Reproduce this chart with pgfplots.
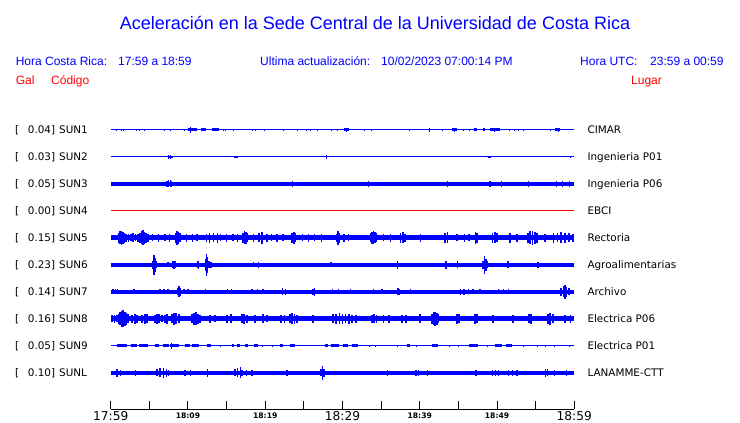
\documentclass[border=0pt]{standalone}
\usepackage{fontspec}
\setmainfont{Liberation Sans}
\newfontfamily\dejavu{DejaVu Sans}
\usepackage{pgfplots}
\usepackage{pgfplotstable}
\pgfplotsset{compat=1.18}
\definecolor{pblue}{RGB}{0,0,255}
\definecolor{pred}{RGB}{255,0,0}

\pgfplotsset{
  spikes/.style={pblue, only marks, mark=*, mark size=0.1pt, mark options={draw=none, fill=none}, error bars/y dir=both, error bars/y explicit, error bars/error mark=none, error bars/error bar style={line width=#1, draw=pblue}},
  blocks/.style={pblue, only marks, mark=*, mark size=0.1pt, mark options={draw=none, fill=none}, error bars/x dir=plus, error bars/x explicit, error bars/error mark=none, error bars/error bar style={line width=#1, draw=pblue}},
}

% ---- SUN1 ----
\pgfplotstableread{
t a
0.8 1.2
1.4 1.2
1.7 1.2
3.3 1.2
3.7 1.2
4.4 1.2
6.9 1.2
7.8 1.2
9.6 1.2
10.3 2.7
14.6 1.2
14.9 1.2
15.9 1.2
18.3 1.2
18.8 1.2
19.9 1.2
22.3 1.2
24.2 1.2
25.3 1.2
25.8 1.2
26.8 1.2
28.6 1.2
29.3 1.2
30.5 2.2
32.8 1.2
33.8 1.2
38.7 1.2
41.2 2.4
42.9 1.2
44.5 2
45.6 1.2
46.4 1.2
48.2 1.2
49.7 2.4
51.6 1.2
52.3 1.2
52.8 1.2
53.4 1.2
56.9 1.2
57.9 1.6
}\sunAs
\pgfplotstableread{
t0 t1
10.0 11.2
11.7 12.3
13.1 14.0
30.2 30.9
44.2 44.8
47.0 47.4
48.2 48.4
49.1 50.4
57.5 58.1
}\sunAb
% ---- SUN2 ----
\pgfplotstableread{
t a
7.5 1.8
7.7 2
16.2 1.3
27.9 1.8
49.0 1.3
59.5 1.3
}\sunBs
\pgfplotstableread{
t0 t1
7.4 8.0
16.0 16.5
48.8 49.2
}\sunBb
% ---- SUN3 ----
\pgfplotstableread{
t a
7.3 3
7.5 3.5
7.7 3.5
7.9 3
23.5 2.8
33.4 2.8
43.6 3
49.1 2.8
50.6 2.8
54.1 2.8
57.7 2.8
58.5 2.8
59.4 3
}\sunCs
% ---- SUN5 ----
\pgfplotstableread{
t a
1.0 5
1.2 6.5
1.4 7
1.6 6
1.8 5
2.0 4
2.3 4
2.6 3.5
2.9 4.5
3.2 3.5
3.5 4
3.8 5
4.0 6.5
4.2 7.5
4.4 6
4.6 5
4.8 4
5.4 3.5
6.2 4
7.0 3.5
7.6 4
8.4 5
8.6 7
8.8 6
9.0 4.5
9.8 4
10.6 4
11.2 3.5
12.4 4
12.8 5
13.3 4.5
13.8 5
14.2 3.5
15.0 4
15.8 3.5
16.4 4
17.1 5
17.3 6.5
17.5 6
17.7 4.5
18.5 4
19.2 4.5
19.6 6
20.2 4
20.8 3.5
21.5 4
22.3 3.5
23.5 5
23.7 6
23.9 4.5
24.8 3.5
25.6 4
26.4 3.5
27.3 4
29.3 4
29.4 7
29.6 5
30.2 4
30.8 3.5
33.6 4.5
33.8 6
34.0 6.5
34.2 5.5
34.4 4.5
35.3 3.5
36.2 4
37.5 5
37.8 5.5
38.1 4
40.1 4
43.3 5
43.6 5.5
44.8 3.5
45.8 4
46.4 3.5
47.2 6
47.4 5
49.4 5
49.7 5.5
50.0 4.5
51.7 5
52.6 4
54.0 5
54.3 6.5
54.6 7
54.9 6
55.2 5
56.2 4
57.3 5
57.8 4.5
58.3 5.5
58.8 5
59.3 4.5
59.8 4
}\sunEs
% ---- SUN6 ----
\pgfplotstableread{
t a
1.2 2.3
1.8 2.3
3.6 2.3
5.5 4
5.6 10
5.75 7
5.9 3.5
7.4 2.5
8.0 3.5
8.2 4.2
8.4 3.5
9.7 2.3
11.2 3.5
11.4 4.2
12.3 6
12.4 11
12.55 8
12.7 3.5
13.0 3
18.5 2.5
19.1 3
19.8 2.3
21.1 2.3
22.2 2.3
23.7 2.3
25.2 2.3
28.5 2.5
29.0 2.3
31.0 2.3
32.7 2.3
34.0 2.3
37.1 4
39.7 2.3
42.3 2.3
43.4 4
44.9 3.5
46.6 2.3
48.2 4
48.4 9
48.55 6
48.7 3.5
50.4 2.3
51.4 3.5
53.0 2.3
55.3 3
57.8 2.3
59.5 2.3
}\sunFs
% ---- SUN7 ----
\pgfplotstableread{
t a
0.3 2.5
0.6 2.5
0.9 2.5
1.7 2.3
2.1 2.3
3.0 2.5
3.4 2.3
3.8 2.3
4.7 2.3
6.4 2.5
6.9 2.5
7.4 2.5
8.7 3.5
8.85 5.5
9.0 4
9.5 2.5
10.0 2.5
11.6 2.3
12.3 2.5
12.9 2.3
15.1 2.5
15.6 2.5
18.3 2.5
19.0 2.5
19.7 2.5
20.2 2.3
22.2 3.5
22.6 3
24.5 2.3
25.3 2.3
26.2 2.8
26.4 4
27.0 2.3
28.7 2.5
29.5 2.5
31.0 2.5
32.2 2.3
34.0 2.5
35.1 2.5
37.2 3.5
37.4 3
38.8 2.5
41.4 2.3
42.6 2.3
45.3 3
45.7 3
46.3 2.5
46.9 2.5
47.8 2.5
48.7 2.3
50.2 2.5
50.8 2.5
51.5 2.5
53.9 2.3
56.5 2.3
58.3 4
58.6 5.5
58.8 7
59.0 5
59.3 3.5
59.7 2.3
}\sunGs
% ---- SUN8 ----
\pgfplotstableread{
t a
0.2 3.5
0.5 4
0.8 3.5
1.0 5
1.2 6.5
1.4 8
1.6 8.5
1.8 7
2.0 6
2.2 4.5
2.8 4
3.1 5
3.4 4
4.1 4
4.4 5
4.7 4.5
5.7 4
6.0 5
6.3 4.5
6.6 3.5
7.0 4
7.3 5
7.9 4.5
8.2 6
8.5 5.5
8.8 4.5
10.5 4.5
10.8 6
11.0 6.5
11.3 5
11.6 4
12.9 4
13.5 3.5
15.0 4
15.6 4.5
17.0 4.5
17.3 5
17.6 4
18.7 4
19.7 4.5
20.2 3.5
22.0 4
22.5 4
23.2 4.5
23.5 5.5
23.8 5
24.1 4
26.2 4
28.8 4.5
29.2 5
29.6 5.5
30.0 5
30.4 4.5
30.8 5
31.2 4
31.7 4
33.8 4
34.1 4.5
34.4 4
35.3 4
36.0 4
37.7 4
38.2 4
40.0 4.5
41.6 5
41.8 6.5
42.0 7
42.2 6
42.4 4.5
44.8 5
45.1 4.5
47.1 5
47.4 4.5
49.5 4
52.1 4
54.1 4.5
54.4 5
56.6 5
56.9 6
57.2 4.5
58.8 4
59.5 4
}\sunHs
% ---- SUN9 ----
\pgfplotstableread{
t a
7.9 2.8
14.2 1.3
19.7 1.3
21.0 1.3
30.6 1.5
33.5 1.3
34.3 1.3
37.1 1.3
39.6 1.3
43.9 1.3
45.0 1.3
48.8 1.3
53.4 1.3
55.2 1.3
56.3 1.3
57.4 1.3
59.4 1.3
}\sunIs
\pgfplotstableread{
t0 t1
0.8 2.1
2.6 3.4
3.7 4.8
5.7 6.3
6.8 7.5
7.7 8.8
9.6 10.2
10.5 11.4
12.5 13.0
15.7 15.9
16.3 16.7
17.4 17.8
18.5 19.0
21.9 22.3
23.2 23.9
27.7 28.1
28.5 29.6
30.0 30.6
31.2 32.0
38.4 38.8
41.6 42.4
46.4 47.6
49.8 50.7
51.1 52.0
}\sunIb
% ---- SUNL ----
\pgfplotstableread{
t a
0.8 3.7
1.3 3
3.2 2.8
6.0 3.5
6.4 4.5
6.8 5
7.2 4
7.5 3
9.6 2.7
10.3 3
12.5 4
16.1 3.5
16.4 4.5
16.8 5.5
17.0 3
17.6 2.8
18.3 2.7
22.8 2.8
27.2 3.5
27.4 7
27.6 4
35.8 2.8
39.5 3
39.8 3
41.0 2.8
47.3 3
49.4 3
49.8 3
50.2 3
51.5 3
52.0 3
52.6 2.7
56.3 4
56.5 3.5
57.4 2.7
59.0 2.8
}\sunLs

\newcommand{\bigt}[1]{{\fontsize{12.2}{14}\selectfont #1}}
\newcommand{\smt}[1]{\raisebox{2.4pt}{\fontsize{7.6}{9}\selectfont\bfseries #1}}
\newcommand{\hdr}{\fontsize{12}{14}\selectfont}
\newcommand{\lab}{\dejavu\fontsize{10.4}{12}\selectfont}

\begin{document}
\begin{tikzpicture}[x=1pt,y=1pt]
\useasboundingbox (0,0) rectangle (740,423);
% header texts
\node[anchor=base, inner sep=0, text=pblue, font=\fontsize{18}{20}\selectfont] at (375,393.7) {Aceleración en la Sede Central de la Universidad de Costa Rica};
\node[anchor=base west, inner sep=0, text=pblue, font=\hdr] at (15.6,357.7) {Hora Costa Rica:};
\node[anchor=base west, inner sep=0, text=pblue, font=\hdr] at (118,357.7) {17:59 a 18:59};
\node[anchor=base west, inner sep=0, text=pblue, font=\hdr] at (260,357.7) {Ultima actualización:};
\node[anchor=base west, inner sep=0, text=pblue, font=\hdr] at (381,357.7) {10/02/2023 07:00:14 PM};
\node[anchor=base west, inner sep=0, text=pblue, font=\hdr] at (580,357.7) {Hora UTC:};
\node[anchor=base west, inner sep=0, text=pblue, font=\hdr] at (650,357.7) {23:59 a 00:59};
\node[anchor=base west, inner sep=0, text=pred, font=\hdr] at (15.6,338) {Gal};
\node[anchor=base west, inner sep=0, text=pred, font=\hdr] at (51,338) {Código};
\node[anchor=base west, inner sep=0, text=pred, font=\hdr] at (631,338) {Lugar};
% row labels
\foreach \r/\v/\c/\p in {130/0.04/SUN1/CIMAR, 157/0.03/SUN2/Ingenieria P01, 184/0.05/SUN3/Ingenieria P06, 211/0.00/SUN4/EBCI, 238/0.15/SUN5/Rectoria, 265/0.23/SUN6/Agroalimentarias, 292/0.14/SUN7/Archivo, 319/0.16/SUN8/Electrica P06, 346/0.05/SUN9/Electrica P01, 373/0.10/SUNL/LANAMME-CTT}{
  \node[anchor=base west, inner sep=0, font=\lab] at (15,{423-\r-3.8}) {[};
  \node[anchor=base east, inner sep=0, font=\lab] at (55.3,{423-\r-3.8}) {\v]};
  \node[anchor=base west, inner sep=0, font=\lab] at (59,{423-\r-3.8}) {\c};
  \node[anchor=base west, inner sep=0, font=\lab] at (587.3,{423-\r-3.8}) {\p};
}
\begin{axis}[
  at={(110.7pt,13.7pt)}, anchor=south west,
  scale only axis, width=463.6pt, height=309.3pt,
  xmin=0, xmax=60, ymin=-409.3, ymax=-100,
  enlargelimits=false, clip=false,
  axis x line*=bottom, axis y line=none,
  axis line style={-, black, line width=1pt},
  xtick={0,5,...,60},
  tick align=inside, major tick length=8.6pt,
  tick style={black, line width=1pt},
  xticklabels={{\bigt{17:59}},{},{\smt{18:09}},{},{\smt{18:19}},{},{\bigt{18:29}},{},{\smt{18:39}},{},{\smt{18:49}},{},{\bigt{18:59}}},
  xticklabel style={anchor=base, yshift=-11.4pt, font=\dejavu, inner sep=0pt},
]
% SUN1
\addplot[pblue, line width=1pt] coordinates {(0,-130) (60,-130)};
\addplot[blocks=3pt] table[x=t0, y expr=-130, x error plus expr=\thisrow{t1}-\thisrow{t0}, x error minus expr=0] {\sunAb};
\addplot[spikes=1pt] table[x=t, y expr=-130, y error=a] {\sunAs};
% SUN2
\addplot[pblue, line width=1pt] coordinates {(0,-157) (60,-157)};
\addplot[blocks=2.5pt] table[x=t0, y expr=-157, x error plus expr=\thisrow{t1}-\thisrow{t0}, x error minus expr=0] {\sunBb};
\addplot[spikes=1pt] table[x=t, y expr=-157, y error=a] {\sunBs};
% SUN3
\addplot[pblue, line width=4pt] coordinates {(0,-184) (60,-184)};
\addplot[spikes=1.3pt] table[x=t, y expr=-184, y error=a] {\sunCs};
% SUN4
\addplot[pred, line width=1pt] coordinates {(0,-211) (60,-211)};
% SUN5
\addplot[pblue, line width=5pt] coordinates {(0,-238) (60,-238)};
\addplot[spikes=1.6pt] table[x=t, y expr=-238, y error=a] {\sunEs};
% SUN6
\addplot[pblue, line width=3.3pt] coordinates {(0,-265) (60,-265)};
\addplot[spikes=1.4pt] table[x=t, y expr=-265, y error=a] {\sunFs};
% SUN7
\addplot[pblue, line width=3.3pt] coordinates {(0,-292) (60,-292)};
\addplot[spikes=1.4pt] table[x=t, y expr=-292, y error=a] {\sunGs};
% SUN8
\addplot[pblue, line width=5pt] coordinates {(0,-319) (60,-319)};
\addplot[spikes=1.8pt] table[x=t, y expr=-319, y error=a] {\sunHs};
% SUN9
\addplot[pblue, line width=1pt] coordinates {(0,-346) (60,-346)};
\addplot[blocks=3pt] table[x=t0, y expr=-346, x error plus expr=\thisrow{t1}-\thisrow{t0}, x error minus expr=0] {\sunIb};
\addplot[spikes=1pt] table[x=t, y expr=-346, y error=a] {\sunIs};
% SUNL
\addplot[pblue, line width=3.6pt] coordinates {(0,-373) (60,-373)};
\addplot[spikes=1.4pt] table[x=t, y expr=-373, y error=a] {\sunLs};
\end{axis}
\end{tikzpicture}
\end{document}
